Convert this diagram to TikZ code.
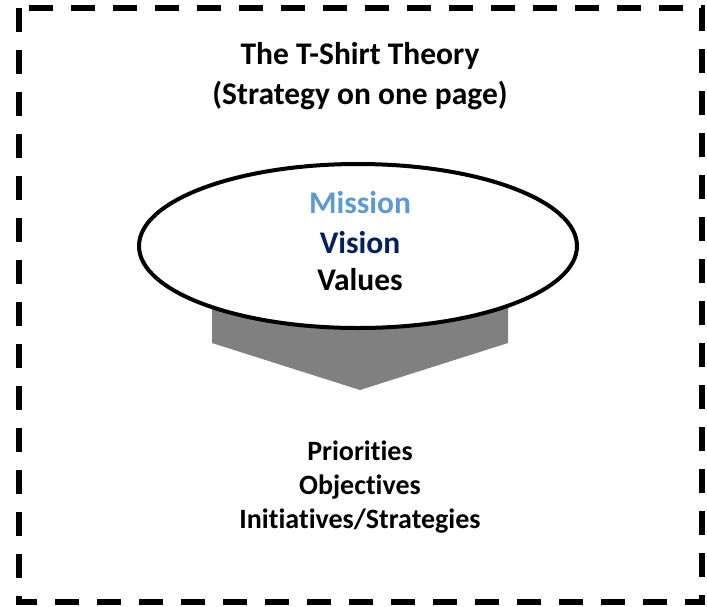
\documentclass[tikz,border=0pt]{standalone}
\usepackage{fontspec}
\setmainfont{Carlito}[RawFeature={-liga}]
\usetikzlibrary{shapes.geometric}
\definecolor{missionblue}{HTML}{5B9BD5}
\definecolor{visionnavy}{HTML}{002060}
\definecolor{arrowgray}{HTML}{808080}
\tikzset{
  bigtxt/.style={font=\fontsize{31.5}{36}\selectfont\bfseries, anchor=base, inner sep=0pt},
  smalltxt/.style={font=\fontsize{28}{32}\selectfont\bfseries, anchor=base, inner sep=0pt},
  frame/.style={line width=6pt, dash pattern=on 24pt off 18pt},
}
\begin{document}
\begin{tikzpicture}[x=1pt,y=1pt]
\useasboundingbox (0,0) rectangle (707,-606);
\draw[frame] (19,-8) rectangle (702,-602);
\node[bigtxt] (t1) at (360,-64) {The T-Shirt Theory};
\node[bigtxt] (t2) at (360,-104) {(Strategy on one page)};
\fill[arrowgray] (212,-297) -- (508,-297) -- (508,-343) -- (360,-390) -- (212,-343) -- cycle;
\node[ellipse, draw, line width=4pt, fill=white, minimum width=438pt, minimum height=164pt, inner sep=0pt] (ell) at (358,-246) {};
\node[bigtxt, text=missionblue] (m) at (360,-213) {Mission};
\node[bigtxt, text=visionnavy] (v) at (360,-253) {Vision};
\node[bigtxt] (va) at (360,-290) {Values};
\node[smalltxt] (p) at (360,-460) {Priorities};
\node[smalltxt] (o) at (360,-494) {Objectives};
\node[smalltxt] (i) at (360,-528) {Initiatives/Strategies};
\end{tikzpicture}
\end{document}
